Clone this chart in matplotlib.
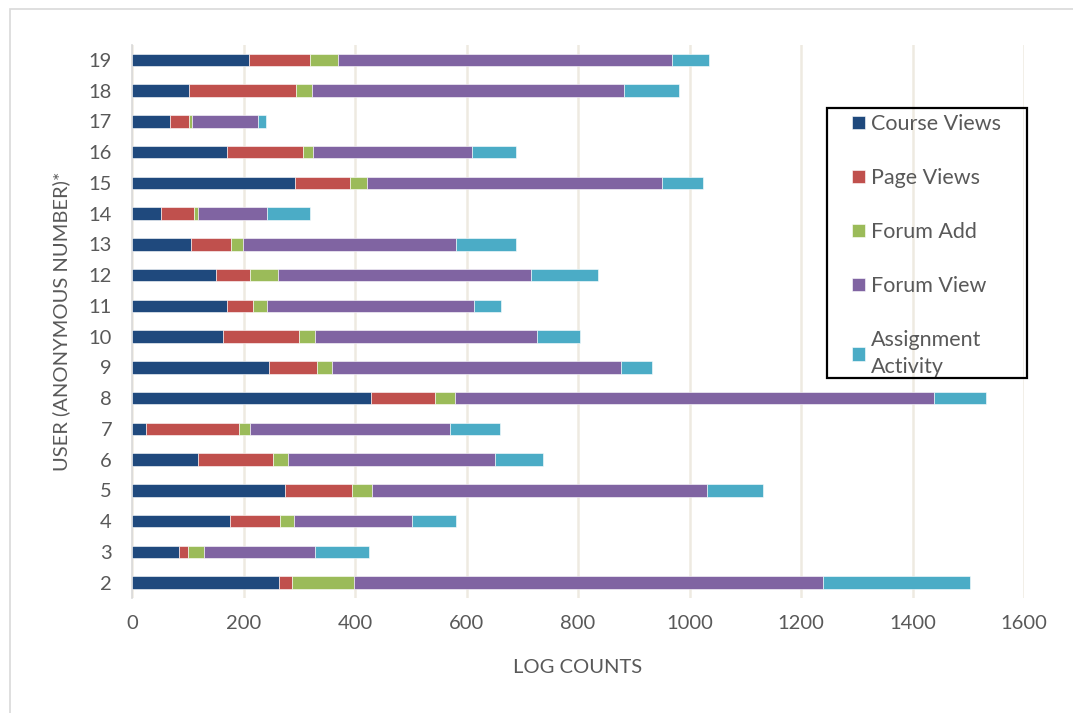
import numpy as np
import matplotlib
matplotlib.use('Agg')
import matplotlib.pyplot as plt
from matplotlib.patches import Rectangle

plt.rcParams['font.family'] = ['Lato', 'DejaVu Sans']

users = [2, 3, 4, 5, 6, 7, 8, 9, 10, 11, 12, 13, 14, 15, 16, 17, 18, 19]

course_views = [264, 84, 176, 274, 118, 26, 429, 246, 163, 170, 151, 106, 52, 292, 171, 69, 102, 209]
page_views = [23, 17, 90, 120, 135, 166, 114, 86, 137, 47, 60, 72, 59, 99, 136, 34, 192, 111]
forum_add = [111, 29, 25, 37, 27, 20, 37, 26, 28, 25, 51, 21, 7, 31, 17, 5, 29, 50]
forum_view = [842, 198, 211, 601, 371, 359, 858, 519, 399, 371, 453, 382, 124, 529, 286, 118, 559, 598]
assignment = [263, 97, 80, 99, 86, 89, 94, 55, 77, 48, 120, 108, 77, 73, 78, 15, 99, 67]

series = [
    ('Course Views', course_views, '#1F497D'),
    ('Page Views', page_views, '#C0504D'),
    ('Forum Add', forum_add, '#9BBB59'),
    ('Forum View', forum_view, '#8064A2'),
    ('Assignment\nActivity', assignment, '#4BACC6'),
]

text_col = '#595959'
W, H = 1073, 713

fig = plt.figure(figsize=(W / 100, H / 100), dpi=100)
# light outer frame of the chart area
fig.patches.append(Rectangle((10 / W, -0.01), 1.0, 1 - 9 / H + 0.01,
                             transform=fig.transFigure, fill=False,
                             edgecolor='#D9D9D9', linewidth=1.2))

ax = fig.add_axes([132 / W, 1 - 598 / H, 892 / W, 553.5 / H])

ypos = np.arange(len(users))
left = np.zeros(len(users))
for name, vals, col in series:
    vals = np.array(vals, dtype=float)
    ax.barh(ypos, vals, left=left, height=0.4, color=col, label=name,
            edgecolor='white', linewidth=0.4, zorder=3)
    left += vals

ax.set_xlim(0, 1600)
ax.set_ylim(-0.5, len(users) - 0.5)
ax.set_xticks(np.arange(0, 1601, 200))
ax.set_yticks(ypos)
ax.set_yticklabels([str(u) for u in users])
ax.xaxis.grid(True, color='#EEEAE1', linewidth=1.8, zorder=0)
ax.set_axisbelow(True)
ax.tick_params(axis='both', length=0, labelsize=14.5, colors=text_col)
ax.tick_params(axis='x', pad=12)
ax.tick_params(axis='y', pad=14.4)
for s in ['top', 'right', 'bottom']:
    ax.spines[s].set_visible(False)
ax.spines['left'].set_color('#D9D9D9')
ax.spines['left'].set_linewidth(1.2)

ax.set_xlabel('LOG COUNTS', fontsize=14.5, color=text_col, labelpad=20)
ax.set_ylabel('USER (ANONYMOUS NUMBER)*', fontsize=14.5, color=text_col, labelpad=13)

# legend entries without frame; the box is drawn separately
leg = ax.legend(loc='upper left', bbox_to_anchor=(852 / W, 1 - 114 / H),
                bbox_transform=fig.transFigure, frameon=False,
                fontsize=15.5, labelspacing=1.58, handlelength=0.6,
                handleheight=0.6, handletextpad=0.3, borderpad=0,
                borderaxespad=0, labelcolor=text_col)
for t in leg.get_texts():
    t.set_verticalalignment('baseline')
    t.set_linespacing(1.45)

fig.patches.append(Rectangle((827 / W, 1 - 378 / H), 200 / W, 270 / H,
                             transform=fig.transFigure, fill=False,
                             edgecolor='black', linewidth=1.6, zorder=5))

fig.savefig('out.png', dpi=100)
